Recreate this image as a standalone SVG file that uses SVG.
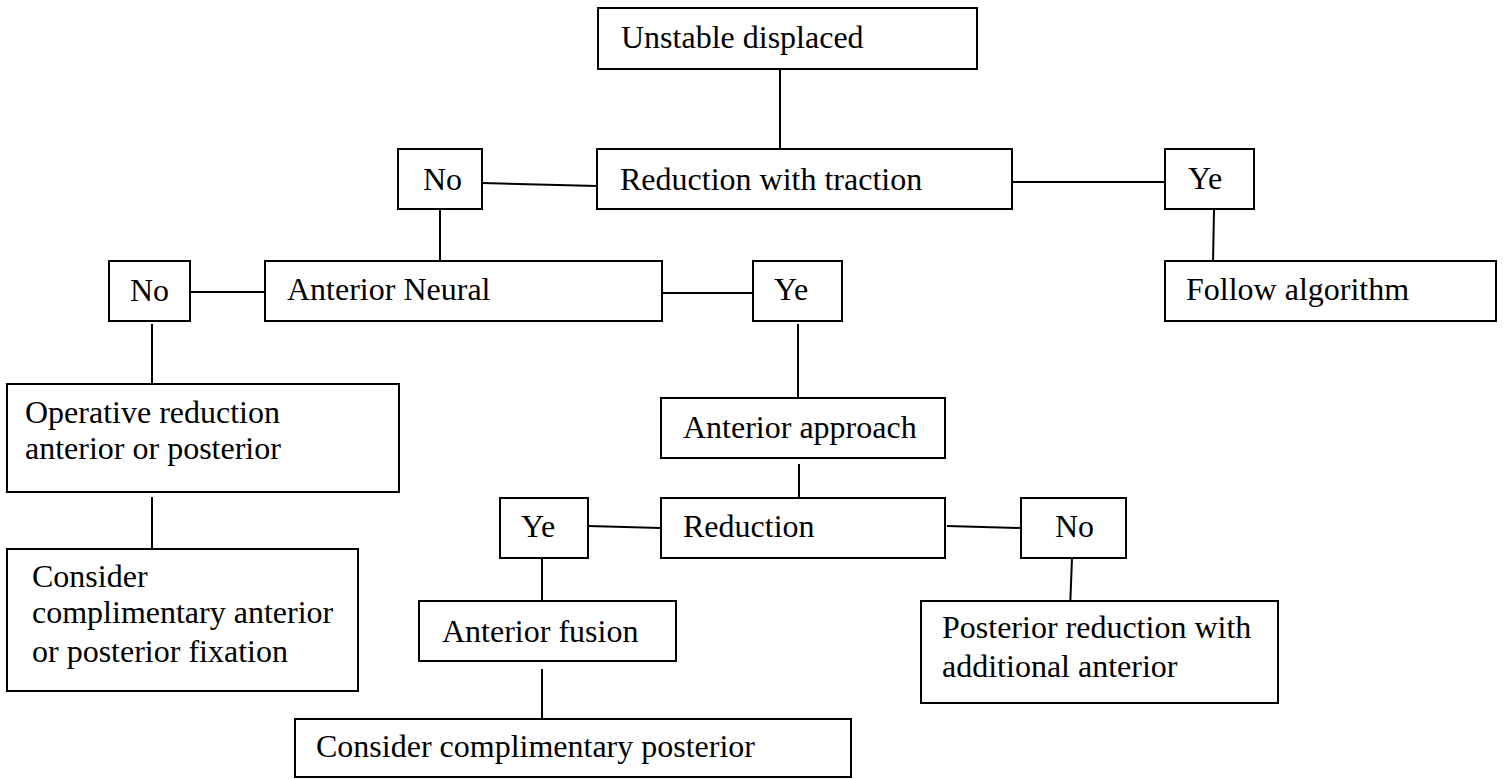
<svg xmlns="http://www.w3.org/2000/svg" width="1506" height="779" viewBox="0 0 1506 779">
<style>
rect.box{fill:#fff;stroke:#000;stroke-width:2}
text{font-family:"Liberation Serif","Times New Roman",serif;font-size:32px;fill:#000}
#connectors line{stroke:#000;stroke-width:2}
</style>
<rect width="1506" height="779" fill="#fff"/>
<g id="connectors">
<line x1="780" y1="69" x2="780" y2="152"/>
<line x1="482" y1="183" x2="597" y2="186"/>
<line x1="1012" y1="182" x2="1165" y2="182"/>
<line x1="440" y1="209" x2="440" y2="261"/>
<line x1="1214" y1="210" x2="1213" y2="264"/>
<line x1="190" y1="292" x2="265" y2="292"/>
<line x1="662" y1="293" x2="753" y2="293"/>
<line x1="152" y1="324" x2="152" y2="390"/>
<line x1="798" y1="324" x2="798" y2="404"/>
<line x1="152" y1="497" x2="152" y2="558"/>
<line x1="799" y1="464" x2="799" y2="498"/>
<line x1="588" y1="526" x2="661" y2="528"/>
<line x1="947" y1="526" x2="1021" y2="528"/>
<line x1="542" y1="558" x2="542" y2="610"/>
<line x1="1072" y1="558" x2="1070" y2="610"/>
<line x1="542" y1="669" x2="542" y2="729"/>
</g>
<g id="unstable"><rect class="box" x="598" y="8" width="379" height="61"/><text x="621" y="48">Unstable displaced</text></g>
<g id="traction"><rect class="box" x="597" y="149" width="415" height="60"/><text x="620" y="190">Reduction with traction</text></g>
<g id="no1"><rect class="box" x="398" y="149" width="84" height="60"/><text x="423" y="190">No</text></g>
<g id="ye1"><rect class="box" x="1165" y="149" width="89" height="60"/><text x="1188" y="189">Ye</text></g>
<g id="follow"><rect class="box" x="1165" y="261" width="331" height="60"/><text x="1186" y="300">Follow algorithm</text></g>
<g id="no2"><rect class="box" x="109" y="261" width="81" height="60"/><text x="130" y="301">No</text></g>
<g id="neural"><rect class="box" x="265" y="261" width="397" height="60"/><text x="287" y="300">Anterior Neural</text></g>
<g id="ye2"><rect class="box" x="753" y="261" width="89" height="60"/><text x="774" y="300">Ye</text></g>
<g id="operative"><rect class="box" x="7" y="384" width="392" height="108"/><text x="25" y="423">Operative reduction</text><text x="25" y="459">anterior or posterior</text></g>
<g id="consider1"><rect class="box" x="7" y="549" width="351" height="142"/><text x="32" y="587">Consider</text><text x="32" y="623">complimentary anterior</text><text x="32" y="662">or posterior fixation</text></g>
<g id="approach"><rect class="box" x="661" y="398" width="284" height="60"/><text x="683" y="438">Anterior approach</text></g>
<g id="reduction"><rect class="box" x="661" y="498" width="284" height="60"/><text x="683" y="537">Reduction</text></g>
<g id="ye3"><rect class="box" x="500" y="498" width="88" height="60"/><text x="521" y="537">Ye</text></g>
<g id="no3"><rect class="box" x="1021" y="498" width="105" height="60"/><text x="1055" y="537">No</text></g>
<g id="fusion"><rect class="box" x="419" y="601" width="257" height="60"/><text x="442" y="642">Anterior fusion</text></g>
<g id="posterior"><rect class="box" x="921" y="601" width="357" height="102"/><text x="942" y="638">Posterior reduction with</text><text x="942" y="677">additional anterior</text></g>
<g id="consider2"><rect class="box" x="295" y="719" width="556" height="58"/><text x="316" y="757">Consider complimentary posterior</text></g>
</svg>
